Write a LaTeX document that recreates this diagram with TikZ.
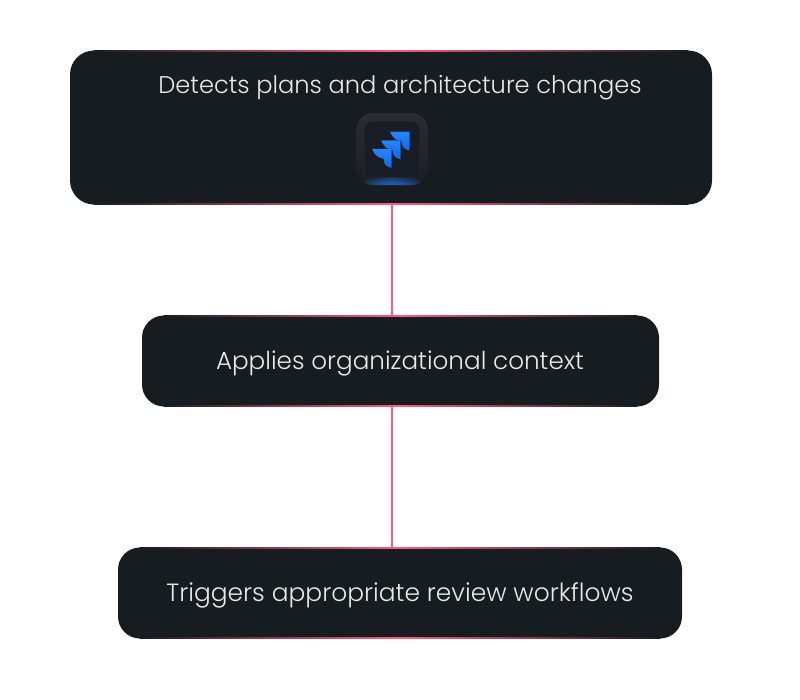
\documentclass[tikz,border=0pt]{standalone}
\usepackage{fontspec}
\setmainfont{Poppins Light}
\usetikzlibrary{calc}
\definecolor{boxfill}{HTML}{171C20}
\definecolor{pinkline}{HTML}{FF5C7A}
\definecolor{labelcol}{HTML}{E8EAEA}
\definecolor{iconedge}{HTML}{2A2E34}
\definecolor{iconring}{HTML}{1A1E24}
\definecolor{iconface}{HTML}{181C24}
\definecolor{jirablue}{HTML}{2684FF}
\definecolor{jiradeep}{HTML}{1668DC}
\tikzset{
  panel/.style={fill=boxfill,draw=none,rounded corners=#1,inner sep=0pt},
  panel/.default=18pt,
  caption/.style={text=labelcol,inner sep=0pt,anchor=base},
  link/.style={draw=pinkline,line width=0.9pt},
  rim/.style={left color=boxfill,right color=boxfill,middle color=pinkline,draw=none},
}
\begin{document}
\begin{tikzpicture}[x=0.75pt,y=-0.75pt]
\useasboundingbox (0,0) rectangle (800,700);
\coordinate (axis) at (392,0);
% panels
\node[panel,minimum width=481.5pt,minimum height=115.5pt] (planbox) at (391,127.5) {};
\node[panel=16.5pt,minimum width=387.75pt,minimum height=68.25pt] (contextbox) at (400.5,361) {};
\node[panel=16.5pt,minimum width=423pt,minimum height=68.25pt] (triggerbox) at (400,593) {};
% connectors
\draw[link] (planbox.south -| axis) -- (contextbox.north -| axis);
\draw[link] (contextbox.south -| axis) -- (triggerbox.north -| axis);
% rims
\foreach \n/\r in {planbox/24,contextbox/22,triggerbox/22}{
  \fill[rim] ($(\n.north west)+(\r,0)$) rectangle ($(\n.north east)+(-\r,1)$);
  \fill[rim] ($(\n.south west)+(\r,-1)$) rectangle ($(\n.south east)+(-\r,0)$);
}
% labels
\node[caption,font=\fontsize{18.1}{22}\selectfont] (plantext) at (400,93) {Detects plans and architecture changes};
\node[caption,font=\fontsize{18.5}{22}\selectfont] (contexttext) at (400,369) {Applies organizational context};
\node[caption,font=\fontsize{18.7}{22}\selectfont] (triggertext) at (400,601) {Triggers appropriate review workflows};
% icon
\begin{scope}
  \path[clip,rounded corners=12pt] (356.5,113) rectangle (428,185);
  \fill[top color=iconedge,bottom color=iconring] (356.5,113) rectangle (428,185);
  \shade[inner color=jirablue!90!black,outer color=iconring] (392,187) ellipse (36 and 13);
  \fill[iconface,rounded corners=6pt] (364,121) rectangle (420,177);
  \draw[iconedge,line width=0.5pt,rounded corners=6pt] (364,177) -- (364,121) -- (420,121) -- (420,177);
\end{scope}
\foreach \dx/\dy in {0/0,-9/8.6,-18/17.2}{
  \fill[top color=jirablue,bottom color=jiradeep,shift={(\dx,\dy)}] (390,131.7) -- (409.5,131.7) -- (409.5,150.7)
    .. controls (403,150) and (401.5,145) .. (401.5,141.5)
    .. controls (396,141) and (392,137) .. cycle;
}
\end{tikzpicture}
\end{document}
